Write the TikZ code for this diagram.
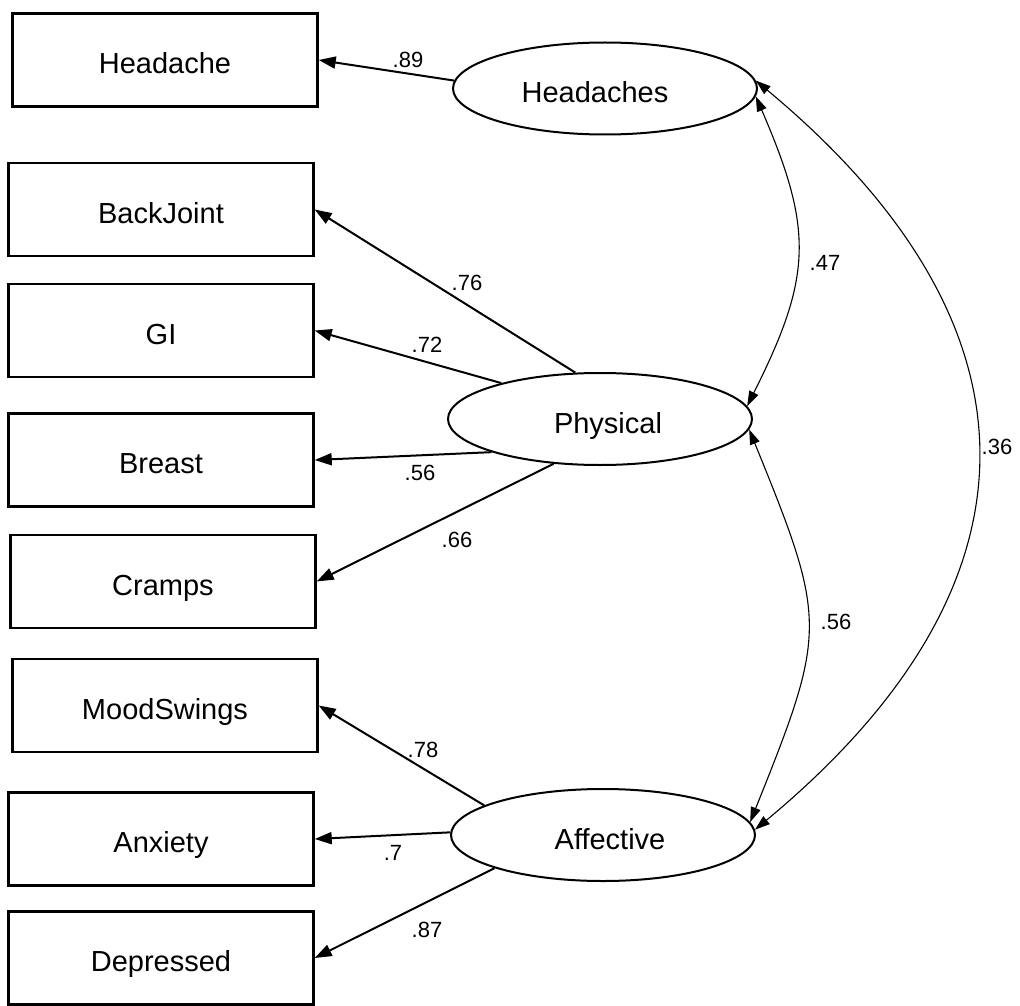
\documentclass[tikz,border=0pt]{standalone}
\usepackage{fontspec}
\setmainfont{Liberation Sans}
\usetikzlibrary{shapes.geometric,arrows.meta}
\begin{document}
\begin{tikzpicture}[x=1pt,y=-1pt,
  obs/.style={draw, line width=2.4pt, rectangle, minimum width=305pt,
    minimum height=93pt, inner sep=0pt, text height=27pt, text depth=0pt,
    font=\fontsize{29}{34}\selectfont},
  lat/.style={draw, line width=2pt, ellipse, minimum width=304pt,
    minimum height=92pt, inner sep=0pt, text height=29pt, text depth=0pt,
    font=\fontsize{29}{34}\selectfont},
  load/.style={line width=2pt, -{Triangle[length=17pt,width=12pt]}},
  cov/.style={line width=1.1pt,
    {Triangle[length=15pt,width=10pt]}-{Triangle[length=15pt,width=10pt]}},
  coef/.style={font=\fontsize{22}{26}\selectfont, inner sep=0pt}
]
% canvas
\fill[white] (0,0) rectangle (1020,1006);
\useasboundingbox (0,0) rectangle (1020,1006);

% observed indicators
\node[obs] (headache)  at (165,60)    {Headache};
\node[obs] (backjoint) at (161,209.5) {BackJoint};
\node[obs] (gi)        at (161,330.5) {GI};
\node[obs] (breast)    at (161,460)   {Breast};
\node[obs] (cramps)    at (163,581.5) {Cramps};
\node[obs] (mood)      at (165,705.5) {MoodSwings};
\node[obs] (anxiety)   at (161,839)   {Anxiety};
\node[obs] (depressed) at (161,958)   {Depressed};

% latent factors (labels set a little off centre)
\node[lat] (headaches) at (605,88.5) {\hspace*{-20pt}Headaches};
\node[lat] (physical)  at (600,419)  {\hspace*{16pt}Physical};
\node[lat] (affective) at (603,835)  {\hspace*{14pt}Affective};

% factor loadings
\draw[load] (headaches.177) -- (headache.east);
\draw[load] (physical.118)  -- (backjoint.east);
\draw[load] (physical.160)  -- (gi.east);
\draw[load] (physical.197)  -- (breast.east);
\draw[load] (physical.224)  -- (cramps.east);
\draw[load] (affective.166) -- (mood.east);
\draw[load] (affective.179) -- (anxiety.east);
\draw[load] (affective.197) -- (depressed.east);

\node[coef] (l89) at (408,60)  {.89};
\node[coef] (l76) at (467,283) {.76};
\node[coef] (l72) at (427,345) {.72};
\node[coef] (l56) at (420,473) {.56};
\node[coef] (l66) at (457,540) {.66};
\node[coef] (l78) at (423,750) {.78};
\node[coef] (l70) at (393,853) {.7};
\node[coef] (l87) at (427,930) {.87};

% factor covariances
\draw[cov] (headaches.-3) to[bend left=25, looseness=1.2] (physical.5);
\draw[cov] (physical.-4) to[bend left=22, looseness=1.35] (affective.5);
\draw[cov] (headaches.3) .. controls (1052,327) and (1050,585) .. (affective.2);

\node[coef] (c47) at (825,263) {.47};
\node[coef] (c56) at (836,622) {.56};
\node[coef] (c36) at (997,447) {.36};
\end{tikzpicture}
\end{document}
